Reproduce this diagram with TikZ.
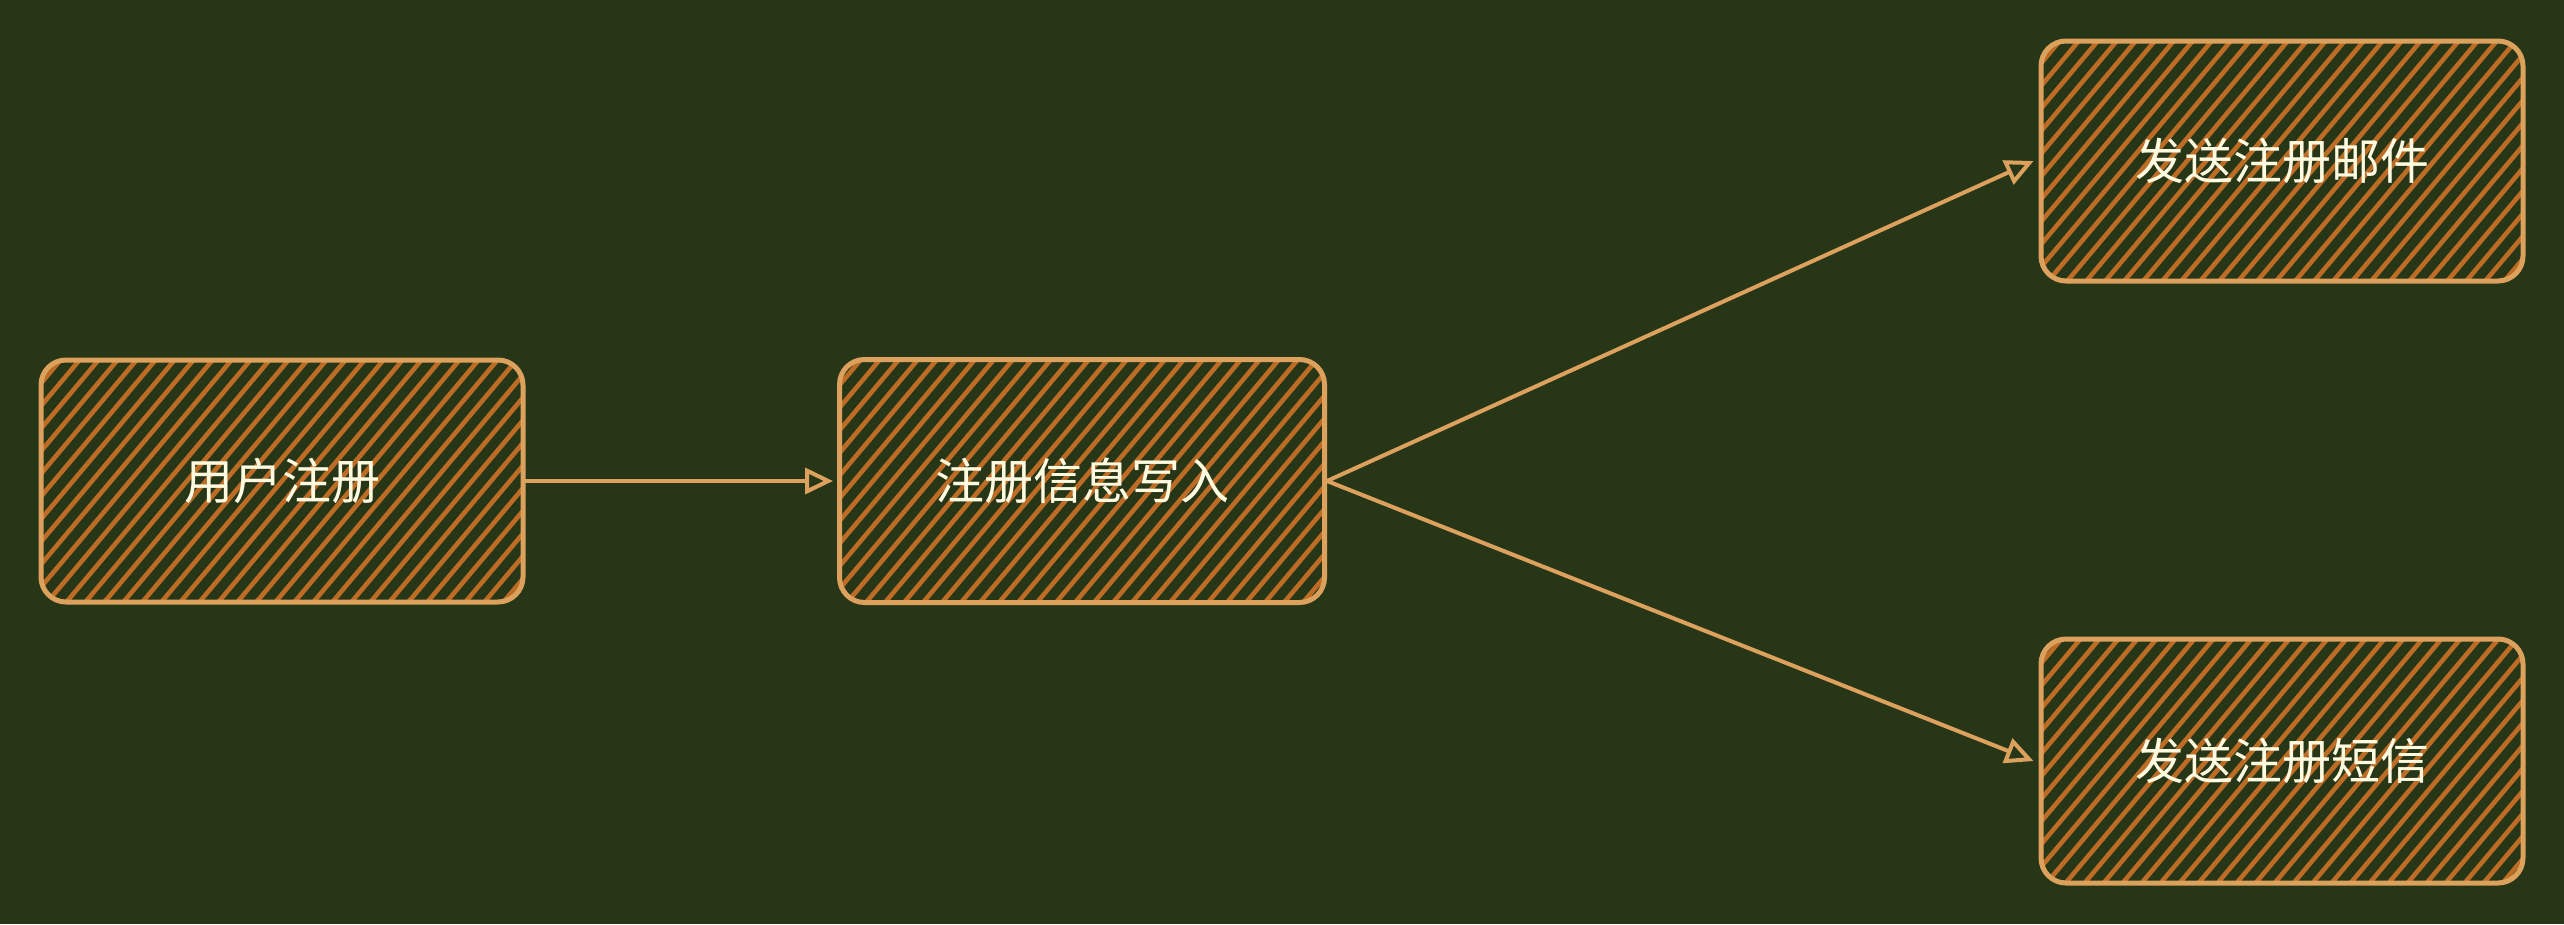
\documentclass[tikz,border=0pt]{standalone}
\usepackage{fontspec}
\newfontfamily\cjk{Noto Sans CJK SC}
\usetikzlibrary{arrows.meta}
\definecolor{bgc}{HTML}{283618}
\definecolor{strokec}{HTML}{DDA15E}
\definecolor{hatchc}{HTML}{BC6C25}
\definecolor{textc}{HTML}{FEFAE0}
\tikzset{
  hatchbox/.style={draw=strokec, line width=5pt, rounded corners=25pt,
    minimum width=482pt, minimum height=242pt, inner sep=0pt,
    text=textc, font=\cjk\fontsize{49}{54}\selectfont,
    path picture={
      \foreach \k in {-21,...,21}{
        \draw[hatchc, line width=4.6pt]
          ([xshift=\k*19pt]path picture bounding box.center) ++(50:-220pt) -- ++(50:440pt);
      }
    }},
  flow/.style={draw=strokec, line width=4pt, line cap=round,
    -{Triangle[open, length=28pt, width=26pt, line width=4pt]}}
}
\begin{document}
\begin{tikzpicture}[x=1pt,y=-1pt]
\fill[bgc] (0,0) rectangle (2564,924);
\useasboundingbox (0,0) rectangle (2564,924);
\node[hatchbox] (reg) at (282,481) {用户注册};
\node[hatchbox, minimum width=485pt, minimum height=243pt] (write) at (1082,481) {注册信息写入};
\node[hatchbox, minimum height=240pt] (mail) at (2282,161) {发送注册邮件};
\node[hatchbox, minimum height=244pt] (sms) at (2282,761) {发送注册短信};
\draw[flow] (reg.east) -- ([xshift=-4pt]write.west);
\draw[flow] (write.east) -- ([xshift=-5pt]mail.west);
\draw[flow] (write.east) -- ([xshift=-5pt]sms.west);
\end{tikzpicture}
\end{document}
